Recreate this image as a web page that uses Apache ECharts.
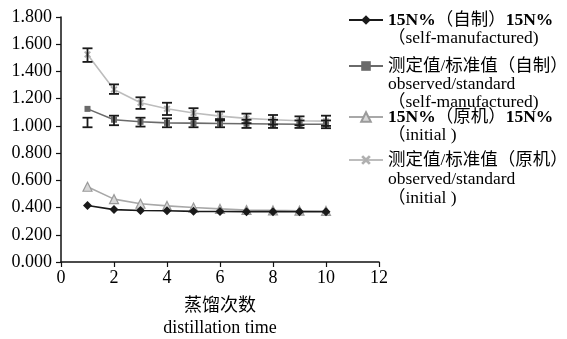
<!DOCTYPE html>
<html>
<head>
<meta charset="utf-8">
<script src="https://cdn.jsdelivr.net/npm/echarts@6/dist/echarts.min.js"></script>
<style>
  html, body { margin: 0; padding: 0; background: #fff; }
  #chart { width: 567px; height: 339px; }
</style>
</head>
<body>
<div id="chart"></div>
<script>
// Distillation runs
const runs = [1, 2, 3, 4, 5, 6, 7, 8, 9, 10];

// 15N% and observed/standard ratio, self-manufactured apparatus
const selfN = [0.415, 0.385, 0.378, 0.376, 0.372, 0.371, 0.370, 0.370, 0.369, 0.369];
const selfRatio = [1.125, 1.045, 1.030, 1.022, 1.020, 1.018, 1.016, 1.014, 1.012, 1.012];
const selfRatioLow = [0.990, 1.005, 0.995, 0.990, 0.990, 0.990, 0.985, 0.985, 0.985, 0.983];
const selfRatioHigh = [1.060, 1.075, 1.060, 1.055, 1.050, 1.050, 1.045, 1.045, 1.040, 1.040];

// 15N% and observed/standard ratio, original apparatus
const initN = [0.553, 0.462, 0.428, 0.412, 0.400, 0.390, 0.382, 0.379, 0.377, 0.375];
const initRatio = [1.525, 1.268, 1.170, 1.126, 1.095, 1.072, 1.055, 1.045, 1.038, 1.035];
const initRatioLow = [1.470, 1.235, 1.125, 1.080, 1.060, 1.040, 1.020, 1.010, 1.005, 1.000];
const initRatioHigh = [1.570, 1.305, 1.210, 1.170, 1.130, 1.105, 1.090, 1.080, 1.070, 1.075];

// Axis ticks
const xTicks = { min: 0, max: 12, step: 2 };
const yTicks = { min: 0, max: 1.8, step: 0.2 };

const seriesNames = [
  '15N%（自制）15N%\n（self-manufactured)',
  '测定值/标准值（自制）\nobserved/standard\n（self-manufactured)',
  '15N%（原机）15N%\n（initial )',
  '测定值/标准值（原机）\nobserved/standard\n（initial )'
];

const FONT = "'Liberation Serif', 'Noto Sans CJK SC', serif";
const LEGEND_SIZE = 17.5;

const pairs = (ys) => runs.map((x, i) => [x, ys[i]]);
const bars = (lo, hi) => runs.map((x, i) => [x, lo[i], hi[i]]);

const crossPath = 'path://M2,0 L5,3 L8,0 L10,2 L7,5 L10,8 L8,10 L5,7 L2,10 L0,8 L3,5 L0,2 Z';

function errorBarItem(params, api) {
  const x = api.value(0);
  const lo = api.coord([x, api.value(1)]);
  const hi = api.coord([x, api.value(2)]);
  const half = 5;
  const style = { stroke: '#1a1a1a', lineWidth: 1.8, fill: null };
  return {
    type: 'group',
    children: [
      { type: 'line', shape: { x1: hi[0], y1: hi[1], x2: lo[0], y2: lo[1] }, style },
      { type: 'line', shape: { x1: hi[0] - half, y1: hi[1], x2: hi[0] + half, y2: hi[1] }, style },
      { type: 'line', shape: { x1: lo[0] - half, y1: lo[1], x2: lo[0] + half, y2: lo[1] }, style }
    ]
  };
}

// Rich-text markup for one legend line; the "15N%" tokens are set in bold.
function markLine(line) {
  return line.split(/(15N%)/).filter(Boolean)
    .map((p) => (p === '15N%' ? '{b|' + p + '}' : '{n|' + p + '}'))
    .join('');
}

// One legend block per series. Blank lines are prepended so that the text
// block is centred on its first line, which keeps that line level with the
// marker while the remaining lines hang below it.
function legendBlock(name, top, lineH) {
  const lines = name.split('\n');
  const extra = lines.length - 1;
  return {
    data: [name],
    orient: 'vertical',
    left: 348,
    top: top,
    padding: 0,
    itemWidth: 34,
    itemHeight: 12,
    itemGap: 0,
    selectedMode: false,
    formatter: () => '\n'.repeat(extra) + lines.map(markLine).join('\n'),
    textStyle: {
      fontFamily: FONT,
      fontSize: LEGEND_SIZE,
      color: '#000',
      lineHeight: lineH,
      rich: {
        n: { fontFamily: FONT, fontSize: LEGEND_SIZE, color: '#000', lineHeight: lineH },
        b: { fontFamily: FONT, fontSize: LEGEND_SIZE, color: '#000', lineHeight: lineH, fontWeight: 'bold' }
      }
    }
  };
}

const chart = echarts.init(document.getElementById('chart'), null, { renderer: 'canvas' });

chart.setOption({
  animation: false,
  backgroundColor: '#fff',
  textStyle: { fontFamily: FONT },
  grid: { left: 61, right: 188, top: 17, bottom: 77, containLabel: false, outerBoundsMode: 'none' },
  legend: [
    legendBlock(seriesNames[0], -7.75, 18.5),
    legendBlock(seriesNames[1], 21, 18),
    legendBlock(seriesNames[2], 89.25, 18.5),
    legendBlock(seriesNames[3], 112.5, 19)
  ],
  xAxis: {
    type: 'value',
    min: xTicks.min,
    max: xTicks.max,
    interval: xTicks.step,
    name: '蒸馏次数\ndistillation time',
    nameLocation: 'middle',
    nameGap: 33,
    nameTextStyle: { fontFamily: FONT, fontSize: 18, color: '#000', lineHeight: 22 },
    axisLine: { lineStyle: { color: '#111', width: 1.5 } },
    axisTick: { inside: false, length: 5, lineStyle: { color: '#111', width: 1.2 } },
    axisLabel: { fontFamily: FONT, fontSize: 18, color: '#000', margin: 7 },
    splitLine: { show: false }
  },
  yAxis: {
    type: 'value',
    min: yTicks.min,
    max: yTicks.max,
    interval: yTicks.step,
    axisLine: { show: true, lineStyle: { color: '#111', width: 1.5 } },
    axisTick: { show: true, inside: false, length: 5, lineStyle: { color: '#111', width: 1.2 } },
    axisLabel: {
      fontFamily: FONT, fontSize: 18, color: '#000', margin: 9,
      formatter: (v) => v.toFixed(3)
    },
    splitLine: { show: false }
  },
  series: [
    {
      name: seriesNames[0],
      type: 'line',
      data: pairs(selfN),
      symbol: 'diamond',
      symbolSize: 9,
      lineStyle: { color: '#1a1a1a', width: 1.6 },
      itemStyle: { color: '#1a1a1a' },
      z: 3
    },
    {
      name: seriesNames[1],
      type: 'line',
      data: pairs(selfRatio),
      symbol: 'rect',
      symbolSize: 6,
      lineStyle: { color: '#6a6a6a', width: 1.6 },
      itemStyle: { color: '#6a6a6a' },
      z: 3
    },
    {
      name: seriesNames[2],
      type: 'line',
      data: pairs(initN),
      symbol: 'triangle',
      symbolSize: 9,
      lineStyle: { color: '#a8a8a8', width: 1.6 },
      itemStyle: { color: '#d8d8d8', borderColor: '#9a9a9a', borderWidth: 1.2 },
      z: 2
    },
    {
      name: seriesNames[3],
      type: 'line',
      data: pairs(initRatio),
      symbol: crossPath,
      symbolSize: 7,
      lineStyle: { color: '#bdbdbd', width: 1.6 },
      itemStyle: { color: '#b0b0b0' },
      z: 2
    },
    {
      name: 'selfErr',
      type: 'custom',
      data: bars(selfRatioLow, selfRatioHigh),
      renderItem: errorBarItem,
      encode: { x: 0, y: [1, 2] },
      silent: true,
      z: 4
    },
    {
      name: 'initErr',
      type: 'custom',
      data: bars(initRatioLow, initRatioHigh),
      renderItem: errorBarItem,
      encode: { x: 0, y: [1, 2] },
      silent: true,
      z: 4
    }
  ]
});
</script>
</body>
</html>
